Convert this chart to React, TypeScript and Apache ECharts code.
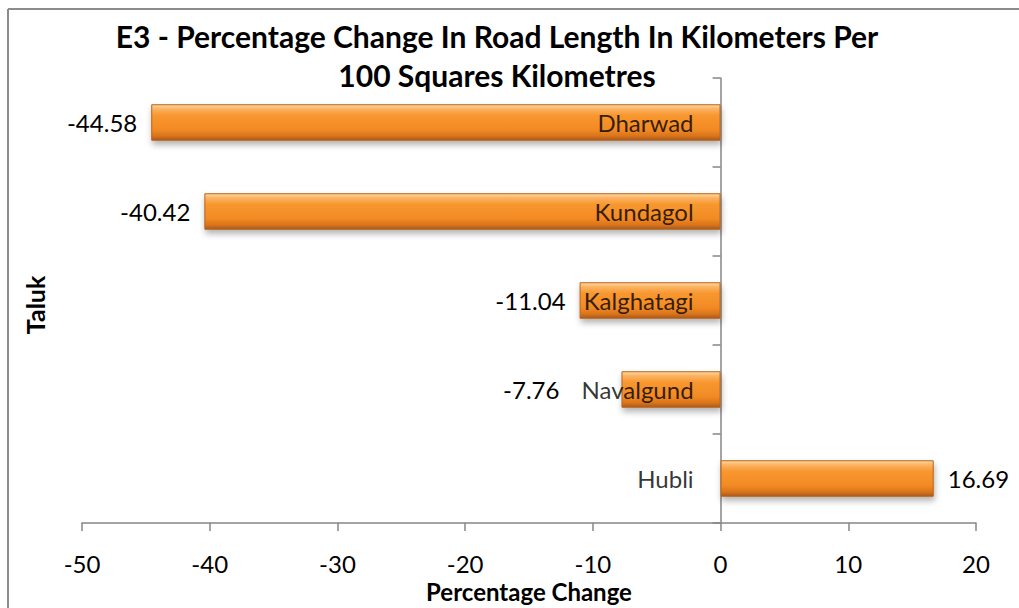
import React, { useEffect, useRef } from "react";
import * as echarts from "echarts";

const categories = ["Hubli", "Navalgund", "Kalghatagi", "Kundagol", "Dharwad"];
const values = [16.69, -7.76, -11.04, -40.42, -44.58];
const xTicks = { min: -50, max: 20, interval: 10 };
const titleLines = [
  "E3 - Percentage Change In Road Length In Kilometers Per",
  "100 Squares Kilometres",
];
const xName = "Percentage Change";
const yName = "Taluk";

const FONT = "Lato, 'Open Sans', sans-serif";

export default function App() {
  const ref = useRef<HTMLDivElement>(null);
  useEffect(() => {
    if (!ref.current) return;
    const chart = echarts.init(ref.current, null, { renderer: "svg" });
    const barColor = new echarts.graphic.LinearGradient(0, 0, 0, 1, [
      { offset: 0, color: "#fcd9a0" },
      { offset: 0.12, color: "#fbb262" },
      { offset: 0.3, color: "#f8972f" },
      { offset: 0.7, color: "#f28a24" },
      { offset: 0.88, color: "#d9741b" },
      { offset: 1, color: "#a9581a" },
    ]);
    chart.setOption({
      animation: false,
      backgroundColor: "#ffffff",
      textStyle: { fontFamily: FONT },
      title: {
        text: titleLines.join("\n"),
        left: 497,
        top: 16,
        padding: 0,
        textAlign: "center",
        textStyle: {
          fontFamily: FONT,
          fontSize: 30,
          fontWeight: "bold",
          color: "#000",
          lineHeight: 39,
        },
      },
      graphic: [
        {
          type: "line",
          shape: { x1: 8, y1: 9, x2: 1019, y2: 9 },
          style: { stroke: "#8c8c8c", lineWidth: 2 },
        },
        {
          type: "line",
          shape: { x1: 8, y1: 9, x2: 8, y2: 608 },
          style: { stroke: "#8c8c8c", lineWidth: 2 },
        },
        {
          type: "text",
          x: 35,
          y: 305,
          rotation: Math.PI / 2,
          style: {
            text: yName,
            fontFamily: FONT,
            fontSize: 25,
            fontWeight: "bold",
            fill: "#000",
            align: "center",
            verticalAlign: "middle",
          },
        },
      ],
      grid: {
        left: 82,
        right: 43,
        top: 78,
        bottom: 85,
        containLabel: false,
        outerBoundsMode: "none",
      },
      xAxis: {
        type: "value",
        min: xTicks.min,
        max: xTicks.max,
        interval: xTicks.interval,
        name: xName,
        nameLocation: "middle",
        nameGap: 56,
        nameMoveOverlap: false,
        nameTextStyle: {
          fontFamily: FONT,
          fontSize: 24,
          fontWeight: "bold",
          color: "#000",
        },
        splitLine: { show: false },
        axisLine: { show: true, lineStyle: { color: "#868686", width: 1.5 } },
        axisTick: { show: true, length: 8, lineStyle: { color: "#868686", width: 1.5 } },
        axisLabel: { fontFamily: FONT, fontSize: 24, color: "#000", margin: 28 },
      },
      yAxis: {
        type: "category",
        data: categories,
        axisLine: { show: true, onZero: true, lineStyle: { color: "#868686", width: 1.5 } },
        axisTick: { show: true, length: 8, lineStyle: { color: "#868686", width: 1.5 } },
        axisLabel: { show: false },
        splitLine: { show: false },
      },
      series: [
        {
          type: "bar",
          barWidth: "41%",
          z: 2,
          data: values.map((v, i) => ({
            value: v,
            label: {
              position: v < 0 ? "left" : "right",
              distance: categories[i] === "Navalgund" ? 62 : 14,
            },
          })),
          itemStyle: {
            color: barColor,
            borderColor: "#b8631c",
            borderWidth: 1,
            shadowBlur: 6,
            shadowOffsetY: 4,
            shadowOffsetX: 1,
            shadowColor: "rgba(0,0,0,0.3)",
          },
          label: {
            show: true,
            distance: 14,
            fontFamily: FONT,
            fontSize: 24,
            color: "#000",
            formatter: (p: any) => Number(p.value).toFixed(2),
          },
        },
        {
          type: "scatter",
          z: 10,
          symbolSize: 0,
          silent: true,
          data: categories.map((c) => [0, c]),
          label: {
            show: true,
            position: "left",
            distance: 27,
            fontFamily: FONT,
            fontSize: 24,
            color: "#000",
            formatter: (p: any) => p.data[1],
          },
        },
      ],
    });
    return () => chart.dispose();
  }, []);
  return <div ref={ref} style={{ width: 1019, height: 608, position: "absolute", left: 0, top: 0 }} />;
}
